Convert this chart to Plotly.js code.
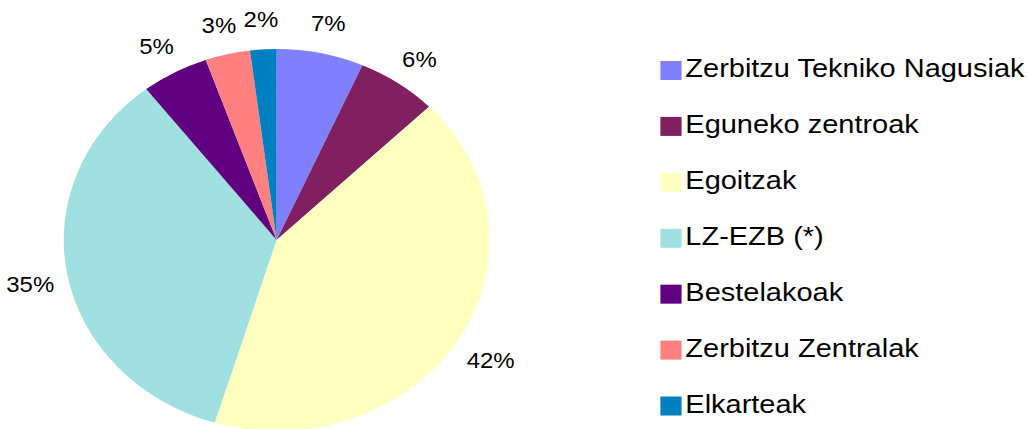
<!DOCTYPE html>
<html>
<head>
<meta charset="utf-8">
<script src="https://cdn.plot.ly/plotly-3.0.1.min.js"></script>
<style>
  html, body { margin: 0; padding: 0; overflow: hidden; background: #ffffff; width: 1031px; height: 429px; }
  #chart { width: 925px; height: 500px; transform: scaleX(1.1146); transform-origin: 0 0; }
</style>
</head>
<body>
<div id="chart"></div>
<script>
// Data
const categories = [
  "Zerbitzu Tekniko Nagusiak",
  "Eguneko zentroak",
  "Egoitzak",
  "LZ-EZB (*)",
  "Bestelakoak",
  "Zerbitzu Zentralak",
  "Elkarteak"
];
const values = [6.6, 6.1, 42.0, 34.8, 5.1, 3.4, 2.0];
const colors = ["#8080FF", "#802060", "#FFFFC0", "#A0E0E0", "#600080", "#FF8080", "#0080C0"];

// Derived values (percent labels and slice mid-angles)
const total = values.reduce((a, b) => a + b, 0);
const pctLabels = values.map(v => Math.round(v / total * 100) + "%");
let cum = 0;
const midAngles = values.map(v => { const m = (cum + v / 2) / total * 360; cum += v; return m; });

const H = 500, W = 925;
const cx = 248.2, cy = 240, rPie = 191, rMaxPolar = 1.2;
const labelR = 1.177, labelDy = 6;
const rPolar = rPie * rMaxPolar;
const pieDomain = { x: [(cx - rPie) / W, (cx + rPie) / W], y: [1 - (cy + rPie) / H, 1 - (cy - rPie) / H] };
const polarDomain = { x: [(cx - rPolar) / W, (cx + rPolar) / W],
                      y: [1 - (cy + labelDy + rPolar) / H, 1 - (cy + labelDy - rPolar) / H] };
const font = "Liberation Sans, Arial, sans-serif";

const pie = {
  type: "pie",
  labels: categories,
  values: values,
  sort: false,
  direction: "clockwise",
  rotation: 0,
  marker: { colors: colors, line: { width: 0 } },
  textinfo: "none",
  hoverinfo: "skip",
  showlegend: false,
  domain: pieDomain
};

const pieLabels = {
  type: "scatterpolar",
  mode: "text",
  r: values.map(() => labelR),
  theta: midAngles,
  text: pctLabels,
  textposition: "middle center",
  textfont: { family: font, size: 21.5, color: "#000000" },
  cliponaxis: false,
  hoverinfo: "skip",
  showlegend: false,
  subplot: "polar"
};

const legendMarks = {
  type: "scatter",
  mode: "markers+text",
  x: categories.map(() => 0),
  y: categories,
  text: categories,
  textposition: "middle right",
  textfont: { family: font, size: 26, color: "#000000" },
  marker: { symbol: "square", size: 19, color: colors, line: { width: 0 } },
  cliponaxis: false,
  hoverinfo: "skip",
  showlegend: false,
  xaxis: "x",
  yaxis: "y"
};

const rowPx = 55.92, firstRowPx = 70.5;
const yTop = -firstRowPx / rowPx;
const layout = {
  width: W,
  height: H,
  margin: { l: 0, r: 0, t: 0, b: 0, pad: 0 },
  paper_bgcolor: "#ffffff",
  plot_bgcolor: "rgba(0,0,0,0)",
  showlegend: false,
  font: { family: font, color: "#000000" },
  polar: {
    domain: polarDomain,
    bgcolor: "rgba(0,0,0,0)",
    hole: 0,
    radialaxis: { visible: false, range: [0, rMaxPolar] },
    angularaxis: { visible: false, rotation: 90, direction: "clockwise", thetaunit: "degrees" }
  },
  xaxis: { domain: [(602 - 20) / W, (602 + 20) / W], range: [-1, 1], visible: false, fixedrange: true },
  yaxis: { domain: [0, 1], type: "category", categoryorder: "array", categoryarray: categories,
           range: [yTop + H / rowPx, yTop], visible: false, fixedrange: true }
};

Plotly.newPlot("chart", [pie, pieLabels, legendMarks], layout, { staticPlot: true, displayModeBar: false });
</script>
</body>
</html>
